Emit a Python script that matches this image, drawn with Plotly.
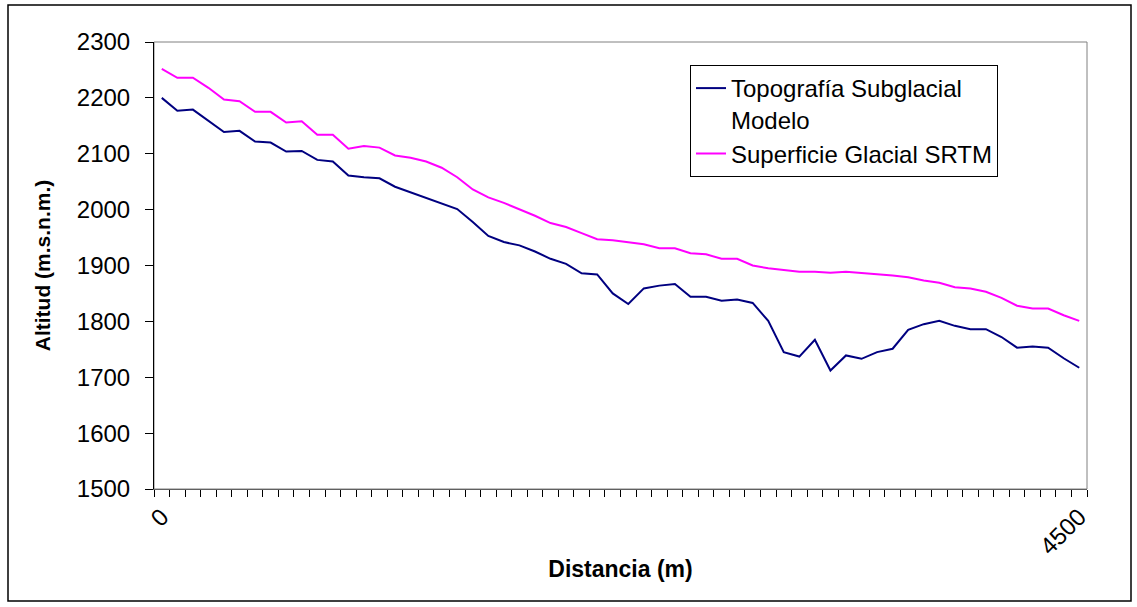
import plotly.graph_objects as go

# Data (60 equally spaced stations, 0 .. 4500 m)
idx = list(range(60))
x_labels_pos = [0, 59]
x_labels_txt = ["0", "4500"]

topografia = [2200, 2177, 2179, 2159, 2139, 2141, 2122, 2120, 2104, 2105,
              2089, 2086, 2061, 2058, 2056, 2041, 2031, 2022, 2012, 2001,
              1978, 1953, 1942, 1936, 1925, 1912, 1903, 1886, 1884, 1850,
              1831, 1859, 1864, 1867, 1844, 1844, 1837, 1839, 1833, 1801,
              1745, 1737, 1767, 1712, 1739, 1733, 1745, 1751, 1785, 1795,
              1801, 1792, 1786, 1786, 1772, 1753, 1755, 1753, 1734, 1717]

superficie = [2252, 2236, 2236, 2218, 2197, 2194, 2175, 2175, 2156, 2158,
              2134, 2134, 2109, 2114, 2111, 2097, 2093, 2086, 2075, 2058,
              2036, 2022, 2012, 2001, 1989, 1976, 1969, 1958, 1947, 1945,
              1942, 1938, 1931, 1931, 1922, 1920, 1912, 1912, 1900, 1895,
              1892, 1889, 1889, 1887, 1889, 1887, 1884, 1882, 1879, 1873,
              1869, 1861, 1859, 1853, 1842, 1828, 1823, 1823, 1811, 1801]

y_ticks = [1500, 1600, 1700, 1800, 1900, 2000, 2100, 2200, 2300]

FONT = "Liberation Sans, Arial, sans-serif"
n = len(idx)
boundaries = [i - 0.5 for i in range(n + 1)]

fig = go.Figure()
fig.add_trace(go.Scatter(x=idx, y=topografia, mode="lines",
                         name="Topografía Subglacial<br>Modelo",
                         line=dict(color="#000080", width=2)))
fig.add_trace(go.Scatter(x=idx, y=superficie, mode="lines",
                         name="Superficie Glacial SRTM",
                         line=dict(color="#FF00FF", width=2)))
# invisible trace carrying the label axis
fig.add_trace(go.Scatter(x=x_labels_pos, y=[None, None], xaxis="x2",
                         showlegend=False, hoverinfo="skip",
                         line=dict(width=0)))

L, R, T, B = 154, 50, 42, 118
W, H = 1137, 607
pw, ph = W - L - R, H - T - B

def px(xp):
    return (xp - L) / pw

def py(yp):
    return (H - B - yp) / ph

fig.update_layout(
    width=W, height=H,
    margin=dict(l=L, r=R, t=T, b=B),
    paper_bgcolor="white", plot_bgcolor="white",
    font=dict(family=FONT, size=24, color="black"),
    showlegend=True,
    legend=dict(x=px(690), y=py(65), xanchor="left", yanchor="top",
                bordercolor="black", borderwidth=1, bgcolor="white",
                font=dict(size=24), valign="top", tracegroupgap=0),
    xaxis=dict(range=[-0.5, n - 0.5], tickmode="array", tickvals=boundaries,
               ticktext=[""] * len(boundaries), ticks="outside", ticklen=7,
               tickcolor="black", showgrid=False, zeroline=False,
               showline=True, linecolor="#606060", linewidth=1,
               title=dict(text="<b>Distancia (m)</b>", font=dict(size=23),
                          standoff=60)),
    xaxis2=dict(range=[-0.5, n - 0.5], overlaying="x", side="bottom",
                tickmode="array", tickvals=x_labels_pos, ticktext=x_labels_txt,
                tickangle=-45, ticks="", showgrid=False, zeroline=False,
                showline=False, tickfont=dict(size=24), ticklabelstandoff=8),
    yaxis=dict(range=[1500, 2300], tickmode="array", tickvals=y_ticks,
               ticks="outside", ticklen=8, tickcolor="black",
               showgrid=False, zeroline=False, showline=True,
               linecolor="black", linewidth=1, ticklabelstandoff=10,
               tickfont=dict(size=24),
               title=dict(text="<b>Altitud (m.s.n.m.)</b>", font=dict(size=21),
                          standoff=20)),
    shapes=[
        dict(type="rect", xref="paper", yref="paper", x0=0, x1=1, y0=0, y1=1,
             line=dict(color="#808080", width=1), layer="below"),
        dict(type="rect", xref="paper", yref="paper",
             x0=px(8), x1=px(1131), y0=py(601), y1=py(5),
             line=dict(color="black", width=1.5), layer="below"),
    ],
)

fig.write_html("out.html")
